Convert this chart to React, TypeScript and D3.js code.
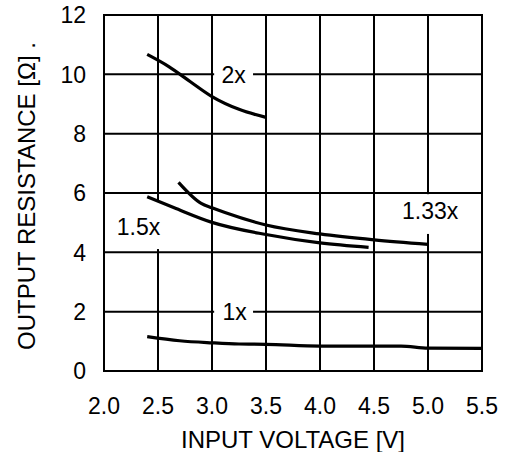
import * as d3 from "d3";
import React, { useEffect, useRef } from "react";

// curves
const v2x = [2.4, 2.6, 2.8, 3.0, 3.25, 3.5];
const r2x = [10.67, 10.26, 9.75, 9.25, 8.82, 8.55];

const v133x = [2.69, 2.9, 3.0, 3.12, 3.5, 4.0, 4.5, 5.0];
const r133x = [6.36, 5.65, 5.5, 5.34, 4.92, 4.62, 4.42, 4.27];

const v15x = [2.4, 2.65, 3.0, 3.5, 4.0, 4.45];
const r15x = [5.87, 5.5, 5.01, 4.6, 4.32, 4.17];

const v1x = [2.4, 2.7, 3.0, 3.25, 3.5, 4.0, 4.5, 4.75, 5.0, 5.5];
const r1x = [1.16, 1.02, 0.95, 0.91, 0.9, 0.84, 0.84, 0.84, 0.77, 0.76];

const xTicks = [2.0, 2.5, 3.0, 3.5, 4.0, 4.5, 5.0, 5.5];
const yTicks = [0, 2, 4, 6, 8, 10, 12];

const labelNames = ["2x", "1x", "1.5x", "1.33x"];
const labelV = [3.2, 3.21, 2.32, 5.02];
const labelR = [10, 2, 4.85, 5.41];
// knock-out boxes behind labels: [v0, v1, r0, r1]
const labelBoxes = [
  [3.02, 3.38, 9.6, 10.4],
  [3.02, 3.38, 1.6, 2.4],
  [2.0, 2.56, 5.76, 4.11],
  [4.69, 5.49, 5.96, 4.62],
];

const W = 513;
const H = 452;
const margin = { left: 104, right: 31, top: 15, bottom: 81 };
const FONT = "'Liberation Sans', Arial, sans-serif";

const App: React.FC = () => {
  const svgRef = useRef<SVGSVGElement>(null);

  useEffect(() => {
    if (!svgRef.current) return;
    const svg = d3.select(svgRef.current);
    svg.selectAll("*").remove();

    const x = d3.scaleLinear().domain([2.0, 5.5]).range([margin.left, W - margin.right]);
    const y = d3.scaleLinear().domain([0, 12]).range([H - margin.bottom, margin.top]);

    // grid
    const grid = svg.append("g").attr("stroke", "#000").attr("stroke-width", 2);
    xTicks.slice(1, -1).forEach((t) => {
      grid.append("line")
        .attr("x1", x(t)).attr("x2", x(t))
        .attr("y1", y(0)).attr("y2", y(12));
    });
    yTicks.slice(1, -1).forEach((t) => {
      grid.append("line")
        .attr("x1", x(2)).attr("x2", x(5.5))
        .attr("y1", y(t)).attr("y2", y(t));
    });

    // white boxes behind labels
    labelBoxes.forEach(([a, b, c, d]) => {
      svg.append("rect")
        .attr("x", x(a)).attr("width", x(b) - x(a))
        .attr("y", Math.min(y(c), y(d))).attr("height", Math.abs(y(d) - y(c)))
        .attr("fill", "#fff");
    });

    svg.append("rect")
      .attr("x", x(2)).attr("y", y(12))
      .attr("width", x(5.5) - x(2)).attr("height", y(0) - y(12))
      .attr("fill", "none").attr("stroke", "#000").attr("stroke-width", 2);

    const line = d3.line<[number, number]>()
      .x((d) => x(d[0]))
      .y((d) => y(d[1]))
      .curve(d3.curveMonotoneX);

    const series = [
      [v2x, r2x],
      [v133x, r133x],
      [v15x, r15x],
      [v1x, r1x],
    ];
    series.forEach(([vs, rs]) => {
      svg.append("path")
        .datum(vs.map((v, i) => [v, rs[i]] as [number, number]))
        .attr("fill", "none")
        .attr("stroke", "#000")
        .attr("stroke-width", 3.2)
        .attr("d", line);
    });

    labelNames.forEach((name, i) => {
      svg.append("text")
        .attr("x", x(labelV[i]))
        .attr("y", y(labelR[i]))
        .attr("dy", "0.36em")
        .attr("text-anchor", "middle")
        .attr("font-family", FONT)
        .attr("font-size", 23)
        .text(name);
    });

    // tick labels
    svg.append("g").selectAll("text").data(yTicks).join("text")
      .attr("x", margin.left - 18)
      .attr("y", (d) => y(d))
      .attr("dy", "0.36em")
      .attr("text-anchor", "end")
      .attr("font-family", FONT)
      .attr("font-size", 23)
      .text((d) => String(d));

    svg.append("g").selectAll("text").data(xTicks).join("text")
      .attr("x", (d) => x(d))
      .attr("y", 414)
      .attr("text-anchor", "middle")
      .attr("font-family", FONT)
      .attr("font-size", 23)
      .text((d) => d.toFixed(1));

    svg.append("text")
      .attr("x", (x(2) + x(5.5)) / 2)
      .attr("y", 448)
      .attr("text-anchor", "middle")
      .attr("font-family", FONT)
      .attr("font-size", 24)
      .text("INPUT VOLTAGE [V]");

    svg.append("text")
      .attr("transform", `translate(35, 196) rotate(-90)`)
      .attr("text-anchor", "middle")
      .attr("font-family", FONT)
      .attr("font-size", 24)
      .text("OUTPUT RESISTANCE [Ω] .");
  }, []);

  return (
    <svg
      ref={svgRef}
      width={W}
      height={H}
      style={{ position: "absolute", left: 0, top: 0, background: "#fff" }}
    />
  );
};

export default App;
